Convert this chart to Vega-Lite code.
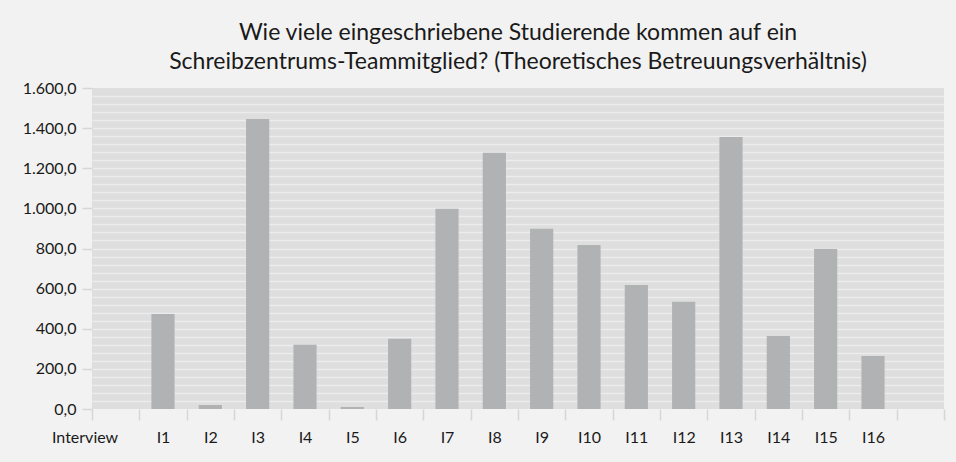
{
  "$schema": "https://vega.github.io/schema/vega-lite/v6.json",
  "width": 852,
  "height": 321,
  "autosize": "none",
  "padding": {"left": 92, "top": 88, "right": 12, "bottom": 53},
  "background": "#f2f2f2",
  "config": {"view": {"fill": "#dedede", "stroke": null}, "font": "Lato"},
  "title": {
    "text": ["Wie viele eingeschriebene Studierende kommen auf ein", "Schreibzentrums-Teammitglied? (Theoretisches Betreuungsverhältnis)"],
    "fontSize": 23,
    "font": "Lato",
    "fontWeight": "normal",
    "color": "#1a1a1a",
    "anchor": "middle",
    "baseline": "bottom",
    "lineHeight": 29,
    "offset": 15,
    "dy": 32
  },
  "data": {
    "values": [
      {"interview": "I1", "wert": 474},
      {"interview": "I2", "wert": 20},
      {"interview": "I3", "wert": 1446},
      {"interview": "I4", "wert": 320},
      {"interview": "I5", "wert": 10},
      {"interview": "I6", "wert": 350},
      {"interview": "I7", "wert": 998},
      {"interview": "I8", "wert": 1277},
      {"interview": "I9", "wert": 898},
      {"interview": "I10", "wert": 818},
      {"interview": "I11", "wert": 618},
      {"interview": "I12", "wert": 534},
      {"interview": "I13", "wert": 1356},
      {"interview": "I14", "wert": 364},
      {"interview": "I15", "wert": 798},
      {"interview": "I16", "wert": 264}
    ]
  },
  "mark": {"type": "bar", "color": "#b1b2b4", "width": {"band": 0.49}},
  "encoding": {
    "x": {
      "field": "interview",
      "type": "nominal",
      "sort": null,
      "scale": {
        "domain": ["Interview", "I1", "I2", "I3", "I4", "I5", "I6", "I7", "I8", "I9", "I10", "I11", "I12", "I13", "I14", "I15", "I16", " "],
        "paddingInner": 0,
        "paddingOuter": 0
      },
      "axis": {
        "title": null,
        "labelAngle": 0,
        "tickBand": "extent",
        "tickSize": 11,
        "tickColor": "#d6d6d6",
        "tickWidth": 1.5,
        "domain": false,
        "labelFontSize": 16,
        "labelColor": "#1a1a1a",
        "labelPadding": 9,
        "labelAlign": {"condition": {"test": "datum.value === 'Interview'", "value": "right"}, "value": "center"},
        "labelOffset": {"condition": {"test": "datum.value === 'Interview'", "value": 2}, "value": 0}
      }
    },
    "y": {
      "field": "wert",
      "type": "quantitative",
      "scale": {"domain": [0, 1600], "nice": false},
      "axis": {
        "title": null,
        "values": [0, 40, 80, 120, 160, 200, 240, 280, 320, 360, 400, 440, 480, 520, 560, 600, 640, 680, 720, 760, 800, 840, 880, 920, 960, 1000, 1040, 1080, 1120, 1160, 1200, 1240, 1280, 1320, 1360, 1400, 1440, 1480, 1520, 1560, 1600],
        "labelExpr": "datum.value % 200 === 0 ? replace(replace(replace(format(datum.value, ',.1f'), ',', '#'), '.', ','), '#', '.') : ''",
        "labelOverlap": false,
        "labelFlush": false,
        "labelFontSize": 16,
        "labelColor": "#1a1a1a",
        "labelPadding": 6,
        "domain": false,
        "tickSize": 10,
        "tickColor": "#d6d6d6",
        "tickWidth": 1.5,
        "tickOpacity": {"condition": {"test": "datum.value % 200 === 0", "value": 1}, "value": 0},
        "grid": true,
        "gridColor": "#ececec",
        "gridWidth": 1.5,
        "gridOpacity": {"condition": {"test": "datum.value === 0 || datum.value === 1600", "value": 0}, "value": 1}
      }
    }
  }
}
